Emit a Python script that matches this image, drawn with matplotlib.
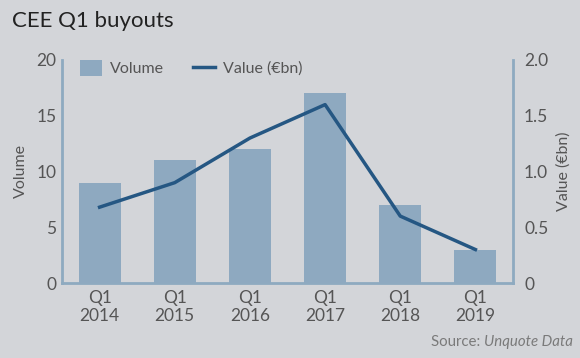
import matplotlib
matplotlib.use("Agg")
import matplotlib.pyplot as plt
from matplotlib.lines import Line2D
from matplotlib.patches import Patch

categories = ["Q1\n2014", "Q1\n2015", "Q1\n2016", "Q1\n2017", "Q1\n2018", "Q1\n2019"]
volume = [9, 11, 12, 17, 7, 3]
value_bn = [0.68, 0.9, 1.3, 1.6, 0.6, 0.3]
left_ticks = [0, 5, 10, 15, 20]
right_ticks = [0, 0.5, 1.0, 1.5, 2.0]
right_tick_labels = ["0", "0.5", "1.0", "1.5", "2.0"]

plt.rcParams['font.family'] = ['Lato', 'DejaVu Sans']
BG = "#d3d5d9"
BAR = "#8ea9c0"
LINE = "#255783"
SPINE = "#8eaac0"
TXT = "#555555"

fig = plt.figure(figsize=(5.8, 3.58), dpi=100, facecolor=BG)
ax = fig.add_axes([62/580, 1-283/358, 451/580, 223/358], facecolor=BG)
x = list(range(len(categories)))
ax.bar(x, volume, width=0.56, color=BAR, zorder=2)
ax.set_xlim(-0.5, 5.5)
ax.set_ylim(0, 20)
ax.set_yticks(left_ticks)
ax.set_yticklabels([str(t) for t in left_ticks])
ax.set_xticks(x)
ax.set_xticklabels(categories, linespacing=1.15)
ax.tick_params(length=0, labelsize=12.5, colors=TXT, pad=5)
ax.tick_params(axis='y', pad=4)
ax.set_ylabel("Volume", fontsize=11.5, color=TXT, labelpad=6)

ax2 = ax.twinx()
ax2.plot(x, value_bn, color=LINE, linewidth=2.5, zorder=3)
ax2.set_ylim(0, 2.0)
ax2.set_yticks(right_ticks)
ax2.set_yticklabels(right_tick_labels)
ax2.tick_params(length=0, labelsize=12.5, colors=TXT, pad=8)
ax2.set_ylabel("Value (€bn)", fontsize=11.5, color=TXT, labelpad=6)

for a in (ax, ax2):
    for s in a.spines.values():
        s.set_visible(False)
for side in ("left", "bottom"):
    ax.spines[side].set_visible(True)
    ax.spines[side].set_color(SPINE)
    ax.spines[side].set_linewidth(2)
ax2.spines["right"].set_visible(True)
ax2.spines["right"].set_color(SPINE)
ax2.spines["right"].set_linewidth(2)

handles = [Patch(facecolor=BAR, edgecolor='none'),
           Line2D([0], [0], color=LINE, linewidth=2.5)]
leg = ax.legend(handles, ["Volume", "Value (€bn)"], loc="upper left",
                bbox_to_anchor=(0.007, 1.065), ncol=2, frameon=False,
                fontsize=11.5, handlelength=1.4, handleheight=1.15,
                columnspacing=1.8, handletextpad=0.5)
for t in leg.get_texts():
    t.set_color(TXT)

fig.text(12/580, 1-21/358, "CEE Q1 buyouts", fontsize=16, color="#222222",
         va="center", ha="left")
src2 = fig.text(573/580, 1-342/358, "Unquote Data", fontsize=10.8, color="#7a7a7a",
                va="center", ha="right", style="italic")
fig.canvas.draw()
bb = src2.get_window_extent(fig.canvas.get_renderer())
fig.text(bb.x0/fig.bbox.width, 1-342/358, "Source: ", fontsize=10.8, color="#7a7a7a",
         va="center", ha="right")

fig.savefig("out.png", dpi=100, facecolor=BG)
